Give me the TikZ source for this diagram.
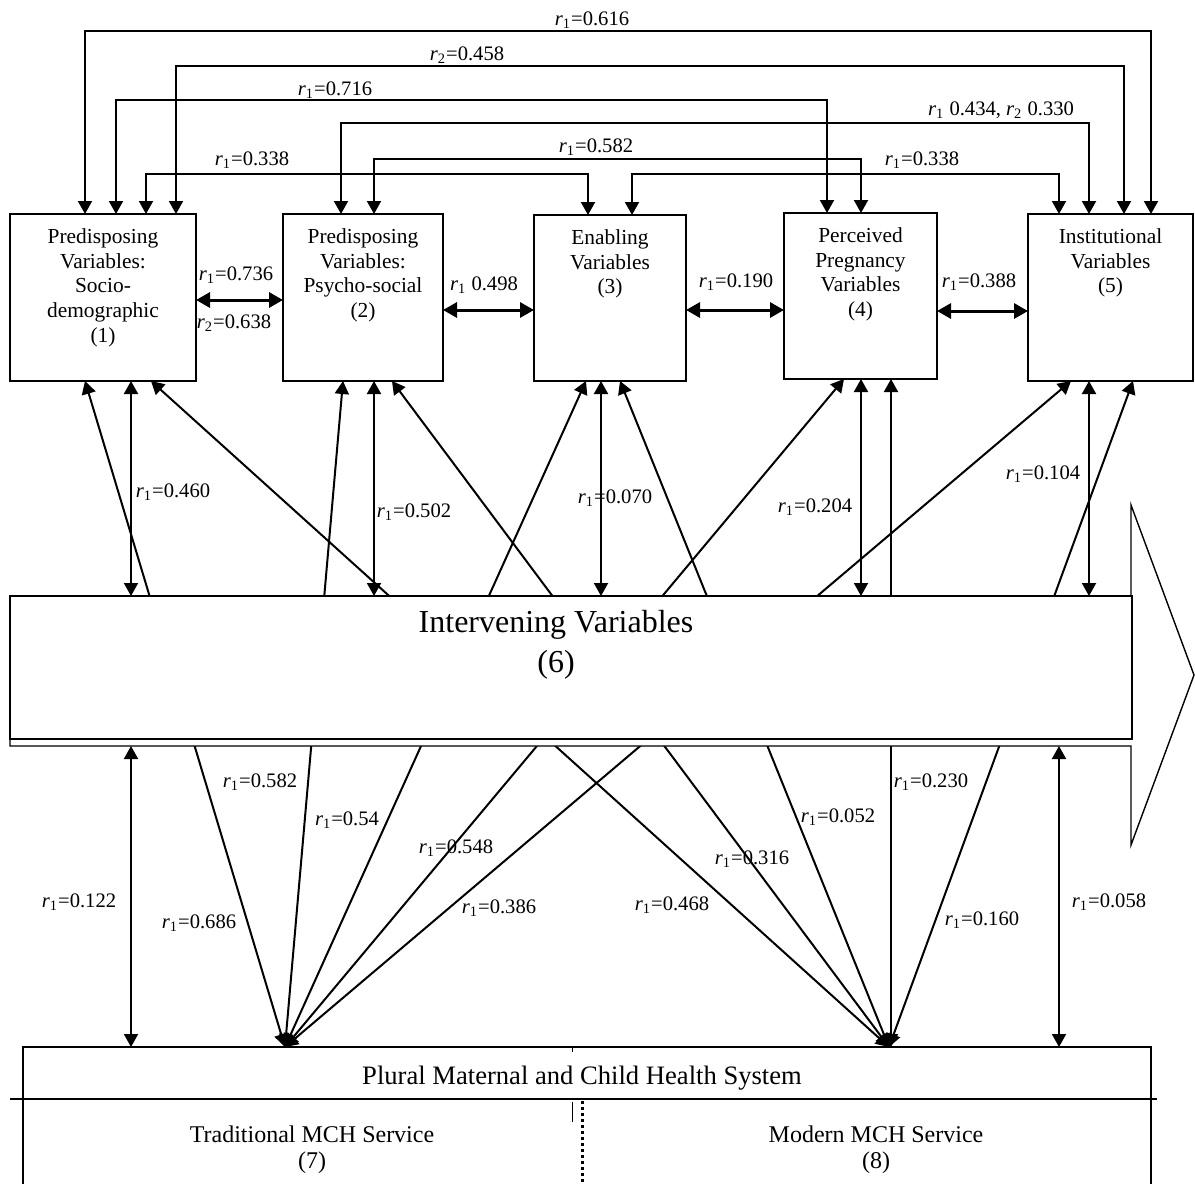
\documentclass[tikz,border=0pt]{standalone}
\usepackage{fontspec}
\setmainfont{Liberation Serif}
\usetikzlibrary{arrows.meta}
\newcommand{\rone}{\textit{r}\textsubscript{1}}
\newcommand{\rtwo}{\textit{r}\textsubscript{2}}
\tikzset{
  caja/.style={draw, line width=0.8pt, anchor=north west, inner sep=0pt, outer sep=0pt},
  texto/.style={align=center, inner sep=0pt, anchor=north, font=\fontsize{10.7}{12.4}\selectfont},
  coef/.style={inner sep=0pt, font=\fontsize{10.3}{12}\selectfont},
  flecha/.style={line width=1pt, {Triangle[length=6.5pt,width=7pt]}-{Triangle[length=6.5pt,width=7pt]}},
  flechah/.style={line width=1.5pt, {Triangle[length=7pt,width=7.5pt]}-{Triangle[length=7pt,width=7.5pt]}}
}
\begin{document}
\begin{tikzpicture}[x=0.5pt, y=-0.5pt]
    \useasboundingbox (0,0) rectangle (1195,1184);
    \clip (0,0) rectangle (1195,1184);

    % Sistema plural (abajo)
    \node[caja, minimum width=564pt, minimum height=90pt] (plural) at (23,1047) {};
    \draw[line width=0.8pt] (10,1099) -- (1157,1099);
    \node[inner sep=0pt, font=\fontsize{13.3}{15}\selectfont] (plural-t) at (582,1078) {Plural Maternal and Child Health System};
    \node[inner sep=0pt, align=center, font=\fontsize{12}{13}\selectfont] (trad) at (312,1150) {Traditional MCH Service\\(7)};
    \node[inner sep=0pt, align=center, font=\fontsize{12}{13}\selectfont] (mod) at (876,1150) {Modern MCH Service\\(8)};
    \draw[line width=0.5pt] (572,1047) -- (572,1052);
    \draw[line width=0.5pt, dash pattern=on 10pt off 4pt] (572,1102) -- (572,1123);
    \draw[line width=1.5pt, dash pattern=on 1.5pt off 1.5pt] (582,1101) -- (582,1184);
    \coordinate (p7) at (plural.north -| 285,0);
    \coordinate (p8) at (plural.north -| 889,0);

    % Cajas superiores
    \node[caja, minimum width=93pt, minimum height=83.5pt] (socio) at (10,214) {};
    \node[caja, minimum width=80pt, minimum height=83.5pt] (psico) at (283,214) {};
    \node[caja, minimum width=76pt, minimum height=83pt] (habil) at (534,215) {};
    \node[caja, minimum width=76.5pt, minimum height=83pt] (embar) at (784,213) {};
    \node[caja, minimum width=82.5pt, minimum height=83.5pt] (inst) at (1028,214) {};

    \node[texto] (socio-t) at ([yshift=-7pt]socio.north) {Predisposing\\Variables:\\Socio-\\demographic\\(1)};
    \node[texto] (psico-t) at ([yshift=-7pt]psico.north) {Predisposing\\Variables:\\Psycho-social\\(2)};
    \node[texto] (habil-t) at ([yshift=-7pt]habil.north) {Enabling\\Variables\\(3)};
    \node[texto] (embar-t) at ([yshift=-7pt]embar.north) {Perceived\\Pregnancy\\Variables\\(4)};
    \node[texto] (inst-t) at ([yshift=-7pt]inst.north) {Institutional\\Variables\\(5)};

    % Conexiones por arriba
    \draw[flecha] (socio.north -| 85,0) |- (1151,31) -- (inst.north -| 1151,0);
    \draw[flecha] (socio.north -| 176,0) |- (1124,66) -- (inst.north -| 1124,0);
    \draw[flecha] (socio.north -| 116,0) |- (827,100) -- (embar.north -| 827,0);
    \draw[flecha] (psico.north -| 341,0) |- (1089,123) -- (inst.north -| 1089,0);
    \draw[flecha] (psico.north -| 374,0) |- (861,159) -- (embar.north -| 861,0);
    \draw[flecha] (socio.north -| 146,0) |- (588,174) -- (habil.north -| 588,0);
    \draw[flecha] (habil.north -| 632,0) |- (1059,174) -- (inst.north -| 1059,0);

    \node[coef] (c-0616) at (592,20) {\rone=0.616};
    \node[coef] (c-0458) at (467,55) {\rtwo=0.458};
    \node[coef] (c-0716) at (335,90) {\rone=0.716};
    \node[coef] (c-0434) at (1001,110) {\rone{} 0.434, \rtwo{} 0.330};
    \node[coef] (c-0582) at (596,147) {\rone=0.582};
    \node[coef] (c-0338a) at (252,160) {\rone=0.338};
    \node[coef] (c-0338b) at (922,160) {\rone=0.338};

    % Conexiones horizontales
    \draw[flechah] (socio.east |- 0,300) -- (psico.west |- 0,300);
    \draw[flechah] (psico.east |- 0,310) -- (habil.west |- 0,310);
    \draw[flechah] (habil.east |- 0,310) -- (embar.west |- 0,310);
    \draw[flechah] (embar.east |- 0,311) -- (inst.west |- 0,311);

    \node[coef] (c-0736) at (236,275) {\rone=0.736};
    \node[coef] (c-0638) at (234,323) {\rtwo=0.638};
    \node[coef] (c-0498) at (484,285) {\rone{} 0.498};
    \node[coef] (c-0190) at (736,282) {\rone=0.190};
    \node[coef] (c-0388) at (979,282) {\rone=0.388};

    % Hacia los servicios (pasan por detras de la caja 6)
    \draw[flecha] (socio.south -| 85,0) -- (p7);
    \draw[flecha] (psico.south -| 343,0) -- (p7);
    \draw[flecha] (habil.south -| 586,0) -- (p7);
    \draw[flecha] (embar.south -| 844,0) -- (p7);
    \draw[flecha] (inst.south -| 1071,0) -- (p7);
    \draw[flecha] (socio.south -| 151,0) -- (p8);
    \draw[flecha] (psico.south -| 392,0) -- (p8);
    \draw[flecha] (habil.south -| 620,0) -- (p8);
    \draw[flecha] (embar.south -| 891,0) -- (p8 -| 891,0);
    \draw[flecha] (inst.south -| 1133,0) -- (p8);

    % Caja de variables intervinientes (flecha grande)
    \draw[line width=0.7pt, fill=white] (10,596) -- (1131,596) -- (1131,505) -- (1194,675)
        -- (1131,845) -- (1131,746) -- (10,746) -- cycle;
    \node[caja, fill=white, minimum width=561pt, minimum height=71.5pt] (interv) at (10,596) {};
    \node[inner sep=0pt, align=center, font=\fontsize{16}{20}\selectfont] (interv-t) at (556,645) {Intervening Variables\\(6)};
    \coordinate (fuste) at (10,746);

    % Con la caja 6
    \draw[flecha] (socio.south -| 131,0) -- (interv.north -| 131,0);
    \draw[flecha] (psico.south -| 374,0) -- (interv.north -| 374,0);
    \draw[flecha] (habil.south -| 601,0) -- (interv.north -| 601,0);
    \draw[flecha] (embar.south -| 861,0) -- (interv.north -| 861,0);
    \draw[flecha] (inst.south -| 1089,0) -- (interv.north -| 1089,0);
    \draw[flecha] (fuste -| 131,0) -- (plural.north -| 131,0);
    \draw[flecha] (fuste -| 1059,0) -- (plural.north -| 1059,0);

    \node[coef] (c-0460) at (173,492) {\rone=0.460};
    \node[coef] (c-0502) at (414,512) {\rone=0.502};
    \node[coef] (c-0070) at (615,498) {\rone=0.070};
    \node[coef] (c-0204) at (815,507) {\rone=0.204};
    \node[coef] (c-0104) at (1043,474) {\rone=0.104};

    % Coeficientes de abajo
    \node[coef] (c-0122) at (79,902) {\rone=0.122};
    \node[coef] (c-0686) at (199,923) {\rone=0.686};
    \node[coef] (c-0582b) at (260,782) {\rone=0.582};
    \node[coef] (c-054) at (347,820) {\rone=0.54};
    \node[coef] (c-0548) at (456,848) {\rone=0.548};
    \node[coef] (c-0386) at (499,908) {\rone=0.386};
    \node[coef] (c-0468) at (672,905) {\rone=0.468};
    \node[coef] (c-0316) at (752,859) {\rone=0.316};
    \node[coef] (c-0052) at (838,817) {\rone=0.052};
    \node[coef] (c-0230) at (931,782) {\rone=0.230};
    \node[coef] (c-0160) at (982,920) {\rone=0.160};
    \node[coef] (c-0058) at (1109,902) {\rone=0.058};
\end{tikzpicture}
\end{document}
